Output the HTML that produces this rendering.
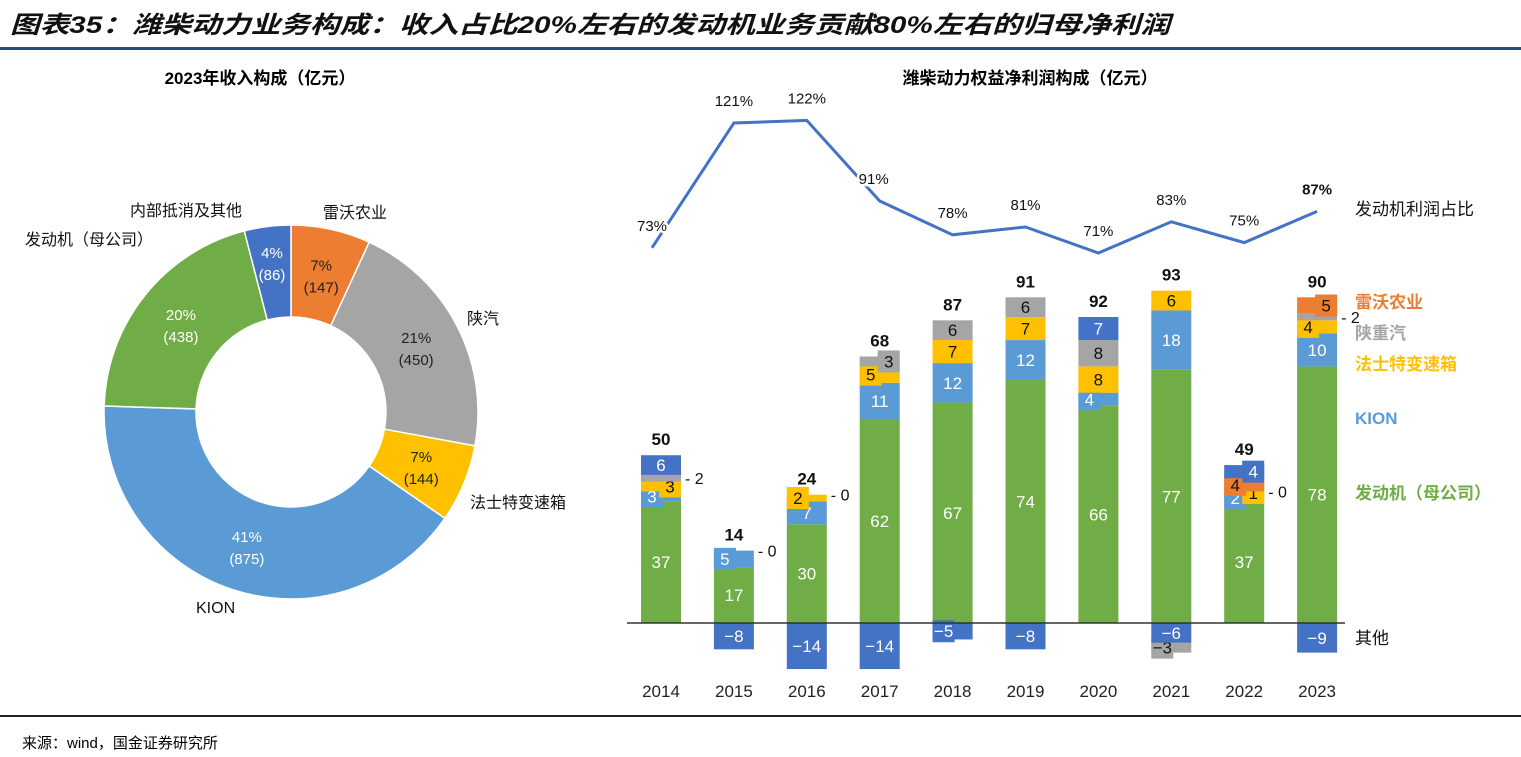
<!DOCTYPE html>
<html><head><meta charset="utf-8"><style>
html,body{margin:0;padding:0;background:#fff;}
svg{display:block;font-family:"Liberation Sans","Noto Sans CJK SC",sans-serif;}
</style></head><body>
<svg id="chart" width="1521" height="757" viewBox="0 0 1521 757">
<text x="10" y="33" font-size="24" font-style="italic" font-weight="bold" textLength="1160" lengthAdjust="spacingAndGlyphs" fill="#111">图表35：潍柴动力业务构成：收入占比20%左右的发动机业务贡献80%左右的归母净利润</text>
<rect x="0" y="47" width="1521" height="3" fill="#1f4e79"/>
<text x="260" y="84" font-size="17" font-weight="bold" text-anchor="middle">2023年收入构成（亿元）</text>
<text x="1030" y="84" font-size="17" font-weight="bold" text-anchor="middle">潍柴动力权益净利润构成（亿元）</text>
<g id="donut"></g>
<g id="bars"></g>
<rect x="0" y="715" width="1521" height="2" fill="#222"/>
<text x="22" y="748" font-size="15">来源：wind，国金证券研究所</text>
</svg>
<script>
// donut data
const donutNames=["雷沃农业","陕汽","法士特变速箱","KION","发动机（母公司）","内部抵消及其他"];
const donutValues=[147,450,144,875,438,86];
const donutPcts=["7%","21%","7%","41%","20%","4%"];
// bar data
const years=["2014","2015","2016","2017","2018","2019","2020","2021","2022","2023"];
const engine=[37,17,30,62,67,74,66,77,37,78];
const kion=[3,5,7,11,12,12,4,18,2,10];
const fast=[3,0,2,5,7,7,8,6,1,4];
const shaan=[2,0,0,3,6,6,8,-3,0,2];
const lovol=[0,0,0,0,0,0,0,0,4,5];
const others=[6,-8,-14,-14,-5,-8,7,-6,4,-9];
const totals=[50,14,24,68,87,91,92,93,49,90];
const ratio=[73,121,122,91,78,81,71,83,75,87];

const NS="http://www.w3.org/2000/svg";
function mk(tag,attrs,parent,text){const e=document.createElementNS(NS,tag);for(const k in attrs)e.setAttribute(k,attrs[k]);if(text!==undefined)e.textContent=text;parent.appendChild(e);return e;}

// donut
const dg=document.getElementById('donut');
const cx=291,cy=412,R=187,r=95;
const dcols=["#ed7d31","#a5a5a5","#ffc000","#5b9bd5","#70ad47","#4472c4"];
const dtxt=["#222","#222","#222","#fff","#fff","#fff"];
const sum=donutValues.reduce((a,b)=>a+b,0);
let ang=0;
donutValues.forEach((v,i)=>{
  const a0=ang,a1=ang+v/sum*2*Math.PI;ang=a1;
  const p=(a,rad)=>[cx+rad*Math.sin(a),cy-rad*Math.cos(a)];
  const [x0,y0]=p(a0,R),[x1,y1]=p(a1,R),[x2,y2]=p(a1,r),[x3,y3]=p(a0,r);
  const lg=(a1-a0)>Math.PI?1:0;
  const s=mk('path',{d:`M${x0},${y0}A${R},${R} 0 ${lg} 1 ${x1},${y1}L${x2},${y2}A${r},${r} 0 ${lg} 0 ${x3},${y3}Z`,fill:dcols[i],stroke:'#fff','stroke-width':1.5},dg);
  
  
  const am=(a0+a1)/2,[lx,ly]=p(am,(R+r)/2+ (i==5?10:0));
  const t1=mk('text',{x:lx,y:ly-4,'font-size':15,'text-anchor':'middle',fill:dtxt[i]},dg,donutPcts[i]);
  
  
  const t2=mk('text',{x:lx,y:ly+18,'font-size':15,'text-anchor':'middle',fill:dtxt[i]},dg,'('+v+')');
  
  
});
const outerLabels=[[323,218,'start'],[467,324,'start'],[470,508,'start'],[196,613,'start'],[25,245,'start'],[130,216,'start']];
outerLabels.forEach((o,i)=>{
  const t=mk('text',{x:o[0],y:o[1],'font-size':16,'text-anchor':o[2],fill:'#111'},dg,donutNames[i]);
  
  
});

// bars
const bg=document.getElementById('bars');
const x0b=661,step=72.9,bw=40,zeroY=623,k=3.29;
const xs=i=>x0b+i*step;
const ys=v=>zeroY-v*k;
const series=[[engine,'#70ad47','#fff','engine'],[kion,'#5b9bd5','#fff','kion'],[fast,'#ffc000','#111','fast'],[shaan,'#a5a5a5','#111','shaanxi'],[lovol,'#ed7d31','#111','lovol'],[others,'#4472c4','#fff','others']];
years.forEach((yr,i)=>{
  let pos=0,neg=0,zeroDone=false,boxN=0;
  const order=[0,1,2,3,4,5];
  const negOrder=[5,3,0,1,2,4];
  const segs={};
  order.forEach(j=>{const v=series[j][0][i];if(v>=0){segs[j]=[pos,pos+v];pos+=v;}});
  negOrder.forEach(j=>{const v=series[j][0][i];if(v<0){segs[j]=[neg+v,neg];neg+=v;}});
  order.forEach(j=>{
    const [arr,col,tc,nm]=series[j];
    const v=arr[i];const [bot,top]=segs[j];
    if(v!==0){
      const rc=mk('rect',{x:xs(i)-bw/2,y:ys(top),width:bw,height:Math.abs(v)*k,fill:col},bg);
      
      
    }
    const mid=ys((top+bot)/2);
    const lbl=v<0?'−'+(-v):String(v);
    if(Math.abs(v)>=6){
      const t=mk('text',{x:xs(i),y:mid+6,'font-size':17,'text-anchor':'middle',fill:tc},bg,lbl);
      
      
    } else if(v!==0 && !(nm==='shaanxi'&&Math.abs(v)<3)){
      const dx=(boxN%2===0)?-9:9;boxN++;
      const bx=mk('rect',{x:xs(i)+dx-11,y:mid-11,width:22,height:22,fill:col},bg);
      
      
      const t=mk('text',{x:xs(i)+dx,y:mid+6,'font-size':17,'text-anchor':'middle',fill:tc},bg,lbl);
      
      
    } else if((v!==0) || (!zeroDone && (nm==='fast'||nm==='shaanxi'))){
      if(v===0)zeroDone=true;
      const t=mk('text',{x:xs(i)+bw/2+4,y:mid+6,'font-size':16,fill:'#111'},bg,'- '+lbl);
      
      
    }
  });
  const tt=mk('text',{x:xs(i),y:ys(pos)-10,'font-size':17,'font-weight':'bold','text-anchor':'middle',fill:'#111'},bg,String(totals[i]));
  
  
  const yl=mk('text',{x:xs(i),y:697,'font-size':17,'text-anchor':'middle',fill:'#222'},bg,yr);
  
  
});
const ax=mk('line',{x1:627,x2:1345,y1:zeroY,y2:zeroY,stroke:'#333','stroke-width':1.5},bg);


// ratio line
const ry=p=>253-(p-71)*2.6;
const lx=i=>xs(i)-(i==0?9:0);
const pts=ratio.map((p,i)=>lx(i)+','+ry(p)).join(' ');
const pl=mk('polyline',{points:pts,fill:'none',stroke:'#4472c4','stroke-width':3},bg);


ratio.forEach((p,i)=>{
  const t=mk('text',{x:lx(i)+(i===3?-6:0),y:ry(p)-17,'font-size':15,'text-anchor':'middle',fill:'#111','font-weight':i===9?'bold':'normal','stroke':'#fff','stroke-width':5,'paint-order':'stroke'},bg,p+'%');
  
  
});
const legends=[["发动机利润占比",215,'#111'],["雷沃农业",308,'#ed7d31'],["陕重汽",339,'#a5a5a5'],["法士特变速箱",370,'#ffc000'],["KION",424,'#5b9bd5'],["发动机（母公司）",499,'#70ad47'],["其他",644,'#111']];
legends.forEach(l=>{
  const t=mk('text',{x:1355,y:l[1],'font-size':17,fill:l[2],'font-weight':(l[2]==='#111'?'normal':'bold')},bg,l[0]);
  
  
});
</script>
</body></html>
